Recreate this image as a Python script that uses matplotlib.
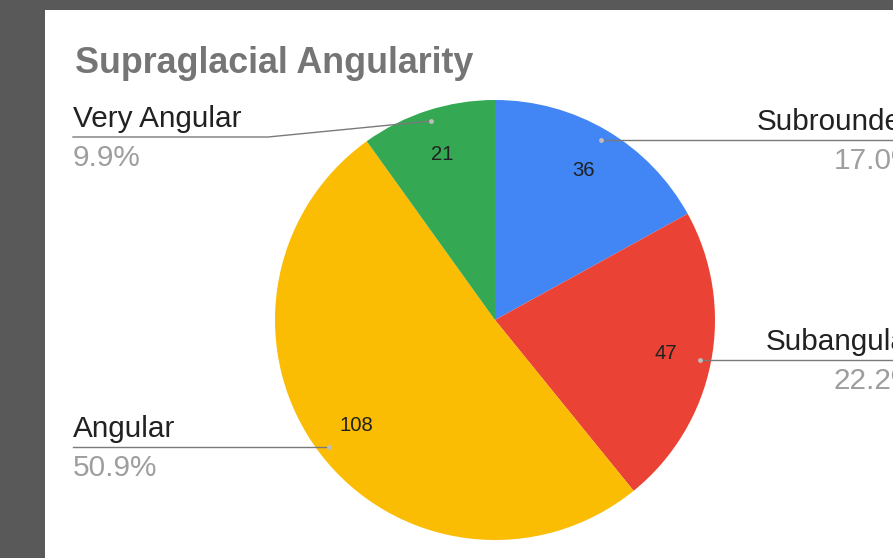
import numpy as np
import matplotlib

matplotlib.use("Agg")
import matplotlib.pyplot as plt

# --- data ---
LABELS = ["Subrounded", "Subangular", "Angular", "Very Angular"]
VALUES = [36, 47, 108, 21]
COLORS = ["#4285F4", "#EA4335", "#FBBC04", "#34A853"]

TITLE = "Supraglacial Angularity"

# --- theme ---
FRAME = "#595959"
TEXT = "#212121"
MUTED = "#9E9E9E"
TITLE_C = "#757575"
LEADER = "#7A7A7A"
DOT = "#BDBDBD"

W, H = 893, 558
plt.rcParams["font.family"] = ["Liberation Sans", "DejaVu Sans"]


def py(y):
    """Pixel row (from the top) -> data y."""
    return H - y


fig = plt.figure(figsize=(W / 100, H / 100), dpi=100)
fig.patch.set_facecolor(FRAME)
ax = fig.add_axes([45 / W, 0, (W - 45) / W, (H - 10) / H])
ax.set_facecolor("white")

total = sum(VALUES)
cx, cy, r = 495, py(320), 220

wedges, _, autotexts = ax.pie(
    VALUES,
    colors=COLORS,
    startangle=90,
    counterclock=False,
    center=(cx, cy),
    radius=r,
    autopct=lambda p: f"{p * total / 100:.0f}",
    pctdistance=0.79,
    textprops=dict(fontsize=14.6, color=TEXT),
    wedgeprops=dict(linewidth=0),
    frame=True,
)

ax.set_xlim(45, W)
ax.set_ylim(0, H - 10)
ax.set_xticks([])
ax.set_yticks([])
for s in ax.spines.values():
    s.set_visible(False)

ax.text(75, py(73), TITLE, fontsize=25.8, fontweight="bold", color=TITLE_C,
        ha="left", va="baseline")


def dot_of(w, f=0.95):
    mid = np.deg2rad((w.theta1 + w.theta2) / 2)
    return cx + f * r * np.cos(mid), cy + f * r * np.sin(mid)


# leader lines + outside labels
for w, lab, v in zip(wedges, LABELS, VALUES):
    dx, dy = dot_of(w)
    pct = f"{100 * v / total:.1f}%"
    if dx > cx:
        # right side: horizontal line running off the canvas
        ax.plot([dx, W + 40], [dy, dy], color=LEADER, lw=1, clip_on=False)
        tx, ha, ly = 918, "right", dy
    else:
        ly = dy if dy < cy else py(137)
        if lab == "Very Angular":
            ax.plot([73, 268, dx], [ly, ly, dy], color=LEADER, lw=1)
        else:
            ax.plot([73, dx], [ly, ly], color=LEADER, lw=1)
        tx, ha = 73, "left"
    ax.plot(dx, dy, "o", ms=3.5, color=DOT, mec="none")
    ax.text(tx, ly + 10, lab, fontsize=21.4, color=TEXT, ha=ha, va="baseline",
            clip_on=False)
    ax.text(tx, ly - 29, pct, fontsize=21.4, color=MUTED, ha=ha, va="baseline",
            clip_on=False)

fig.savefig("out.png", dpi=100, facecolor=FRAME)
